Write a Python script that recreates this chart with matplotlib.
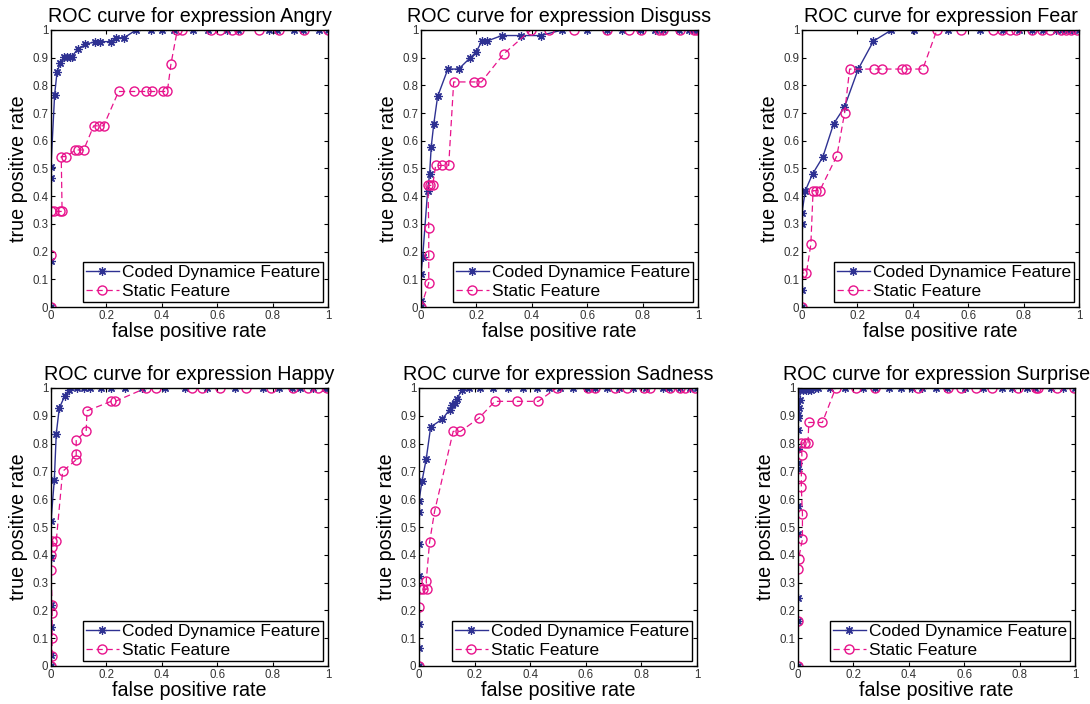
import numpy as np
import matplotlib.pyplot as plt

plt.rcParams['font.family'] = ['Liberation Sans', 'DejaVu Sans']

# Datos: (fpr, tpr) por expresión
titles = ['Angry', 'Disguss', 'Fear', 'Happy', 'Sadness', 'Surprise']

angry_dyn_x = [0, 0, 0, 0, 0.013, 0.022, 0.034, 0.048, 0.057, 0.067, 0.075, 0.096, 0.124, 0.16, 0.178,
               0.216, 0.235, 0.264, 0.307, 0.36, 0.40, 0.444, 0.514, 0.568, 0.634, 0.676, 0.788, 0.816,
               0.876, 0.91, 0.968, 1.0]
angry_dyn_y = [0, 0.165, 0.465, 0.507, 0.766, 0.85, 0.88, 0.904, 0.904, 0.904, 0.904, 0.93, 0.948, 0.958, 0.958,
               0.958, 0.972, 0.972, 1, 1, 1, 1, 1, 1, 1, 1, 1, 1,
               1, 1, 1, 1]
angry_sta_x = [0, 0, 0, 0.012, 0.031, 0.04, 0.037, 0.055, 0.088, 0.096, 0.118, 0.154, 0.172, 0.19, 0.244,
               0.298, 0.343, 0.364, 0.403, 0.42, 0.433, 0.456, 0.472, 0.577, 0.61, 0.654, 0.677, 0.751,
               0.824, 0.912, 1.0]
angry_sta_y = [0, 0.186, 0.345, 0.345, 0.345, 0.345, 0.543, 0.543, 0.567, 0.567, 0.567, 0.654, 0.654, 0.654, 0.778,
               0.778, 0.778, 0.778, 0.778, 0.778, 0.877, 1, 1, 1, 1, 1, 1, 1,
               1, 1, 1]

disg_dyn_x = [0, 0, 0, 0.006, 0.024, 0.031, 0.037, 0.046, 0.06, 0.097, 0.136, 0.178, 0.198, 0.22, 0.238,
              0.292, 0.36, 0.432, 0.51, 0.598, 0.672, 0.726, 0.79, 0.844, 0.874, 0.932, 0.968, 0.986, 1.0]
disg_dyn_y = [0, 0.02, 0.12, 0.18, 0.42, 0.48, 0.579, 0.66, 0.76, 0.859, 0.859, 0.9, 0.919, 0.96, 0.96,
              0.98, 0.98, 0.98, 1, 1, 1, 1, 1, 1, 1, 1, 1, 1, 1]
disg_sta_x = [0, 0.028, 0.028, 0.028, 0.025, 0.034, 0.042, 0.053, 0.076, 0.10, 0.118, 0.19, 0.218, 0.298,
              0.397, 0.462, 0.552, 0.672, 0.751, 0.793, 0.86, 0.874, 0.934, 0.986, 0.998]
disg_sta_y = [0, 0.087, 0.186, 0.287, 0.439, 0.439, 0.439, 0.511, 0.511, 0.511, 0.8125, 0.8125, 0.8125, 0.913,
              1, 1, 1, 1, 1, 1, 1, 1, 1, 1, 1]

fear_dyn_x = [0, 0, 0, 0, 0.012, 0.038, 0.075, 0.114, 0.153, 0.203, 0.258, 0.323, 0.403, 0.526, 0.643,
              0.727, 0.785, 0.832, 0.871, 0.916, 0.94, 0.959, 0.976, 1.0]
fear_dyn_y = [0, 0.06, 0.30, 0.341, 0.42, 0.48, 0.541, 0.661, 0.721, 0.859, 0.96, 1, 1, 1, 1,
              1, 1, 1, 1, 1, 1, 1, 1, 1]
fear_sta_x = [0, 0, 0.016, 0.032, 0.04, 0.052, 0.064, 0.126, 0.154, 0.172, 0.261, 0.288, 0.361, 0.375, 0.436,
              0.487, 0.573, 0.689, 0.721, 0.751, 0.773, 0.832, 0.865, 0.895, 0.935, 0.953, 0.971, 0.992]
fear_sta_y = [0, 0.123, 0.123, 0.227, 0.42, 0.42, 0.42, 0.546, 0.702, 0.859, 0.859, 0.859, 0.859, 0.859, 0.859,
              1, 1, 1, 1, 1, 1, 1, 1, 1, 1, 1, 1, 1]

happy_dyn_x = [0, 0, 0, 0, 0, 0, 0.012, 0.019, 0.03, 0.049, 0.066, 0.094, 0.118, 0.142, 0.18, 0.217, 0.268,
               0.328, 0.412, 0.484, 0.562, 0.664, 0.766, 0.824, 0.87, 0.898, 0.946, 0.988, 1.0]
happy_dyn_y = [0, 0.04, 0.142, 0.22, 0.388, 0.52, 0.67, 0.836, 0.928, 0.97, 0.992, 1, 1, 1, 1, 1, 1,
               1, 1, 1, 1, 1, 1, 1, 1, 1, 1, 1, 1]
happy_sta_x = [0, 0.004, 0.004, 0.004, 0.004, 0, 0, 0.004, 0.004, 0.019, 0.042, 0.091, 0.091, 0.091, 0.127,
               0.13, 0.217, 0.232, 0.343, 0.379, 0.508, 0.544, 0.61, 0.703, 0.794, 0.874, 0.928, 0.964, 0.998]
happy_sta_y = [0, 0.036, 0.10, 0.19, 0.22, 0.346, 0.40, 0.427, 0.448, 0.45, 0.70, 0.742, 0.762, 0.814, 0.844,
               0.918, 0.952, 0.952, 1, 1, 1, 1, 1, 1, 1, 1, 1, 1, 1]

sad_dyn_x = [0, 0, 0, 0, 0, 0, 0, 0.011, 0.026, 0.042, 0.084, 0.11, 0.12, 0.129, 0.135, 0.155, 0.18, 0.219,
             0.267, 0.321, 0.375, 0.423, 0.469, 0.507, 0.553, 0.603, 0.633, 0.678, 0.721, 0.769, 0.817, 0.877,
             0.898, 0.94, 0.976, 1.0]
sad_dyn_y = [0, 0.064, 0.15, 0.325, 0.438, 0.553, 0.594, 0.666, 0.745, 0.86, 0.888, 0.922, 0.938, 0.946, 0.96,
             0.992, 1, 1, 1, 1, 1, 1, 1, 1, 1, 1, 1, 1, 1, 1, 1, 1, 1, 1, 1, 1]
sad_sta_x = [0, 0, 0.002, 0.014, 0.029, 0.026, 0.038, 0.056, 0.123, 0.149, 0.216, 0.273, 0.351, 0.429, 0.495,
             0.607, 0.633, 0.706, 0.748, 0.81, 0.83, 0.904, 0.938, 0.958, 0.992]
sad_sta_y = [0, 0.211, 0.276, 0.276, 0.276, 0.306, 0.445, 0.556, 0.844, 0.844, 0.892, 0.952, 0.952, 0.952, 1,
             1, 1, 1, 1, 1, 1, 1, 1, 1, 1]

surp_dyn_x = [0, 0, 0, 0, 0, 0, 0, 0, 0, 0, 0, 0.002, 0.008, 0.006, 0.018, 0.028, 0.036, 0.046, 0.06, 0.072,
              0.114, 0.169, 0.233, 0.277, 0.329, 0.373, 0.41, 0.448, 0.498, 0.539, 0.602, 0.669, 0.735, 0.773,
              0.825, 0.855, 0.913, 0.958, 1.0]
surp_dyn_y = [0, 0.163, 0.244, 0.474, 0.576, 0.708, 0.73, 0.78, 0.848, 0.892, 0.904, 0.928, 0.958, 0.992, 0.992,
              0.992, 0.992, 0.992, 1, 1, 1, 1, 1, 1, 1, 1, 1, 1, 1, 1, 1, 1, 1, 1, 1, 1, 1, 1, 1]
surp_sta_x = [0, 0, 0, 0.002, 0.016, 0.016, 0.012, 0.012, 0.014, 0.012, 0.024, 0.036, 0.039, 0.088, 0.136,
              0.211, 0.277, 0.434, 0.542, 0.59, 0.642, 0.699, 0.795, 0.859, 0.867, 0.934, 0.998]
surp_sta_y = [0, 0.163, 0.35, 0.385, 0.456, 0.547, 0.643, 0.68, 0.76, 0.802, 0.802, 0.802, 0.876, 0.876, 1,
              1, 1, 1, 1, 1, 1, 1, 1, 1, 1, 1, 1]

dyn_x = [angry_dyn_x, disg_dyn_x, fear_dyn_x, happy_dyn_x, sad_dyn_x, surp_dyn_x]
dyn_y = [angry_dyn_y, disg_dyn_y, fear_dyn_y, happy_dyn_y, sad_dyn_y, surp_dyn_y]
sta_x = [angry_sta_x, disg_sta_x, fear_sta_x, happy_sta_x, sad_sta_x, surp_sta_x]
sta_y = [angry_sta_y, disg_sta_y, fear_sta_y, happy_sta_y, sad_sta_y, surp_sta_y]

W, H = 1090, 704
# caja de cada eje en pixeles: (izq, arriba, ancho, alto)
boxes = [(51, 30, 277, 277), (421, 30, 277, 277), (802, 30, 277, 277),
         (51, 388, 277, 278), (419, 388, 278, 278), (798, 388, 277, 278)]

blue = '#2e3192'
pink = '#e8138c'

fig = plt.figure(figsize=(W / 100, H / 100), dpi=100)
for i in range(6):
    l, t, w, h = boxes[i]
    ax = fig.add_axes([l / W, (H - t - h) / H, w / W, h / H])
    ax.plot(dyn_x[i], dyn_y[i], '-', color=blue, marker=(8, 2, 0), markersize=6, markeredgewidth=0.9,
            linewidth=1, label='Coded Dynamice Feature')
    ax.plot(sta_x[i], sta_y[i], '--', color=pink, marker='o', markersize=6.5, markerfacecolor='none',
            linewidth=0.9, dashes=(5, 3), label='Static Feature')
    ax.set_xlim(0, 1)
    ax.set_ylim(0, 1)
    ax.set_xticks([0, 0.2, 0.4, 0.6, 0.8, 1])
    ax.set_xticklabels(['0', '0.2', '0.4', '0.6', '0.8', '1'])
    ax.set_yticks(np.arange(0, 1.01, 0.1))
    ax.set_yticklabels(['0', '0.1', '0.2', '0.3', '0.4', '0.5', '0.6', '0.7', '0.8', '0.9', '1'])
    ax.tick_params(direction='in', top=True, right=True, length=3, labelsize=8.3, labelcolor='#333333', pad=2)
    for s in ax.spines.values():
        s.set_linewidth(1)
    ax.set_title('ROC curve for expression ' + titles[i], fontsize=14.2, pad=6)
    ax.set_xlabel('false positive rate', fontsize=14.2, labelpad=0)
    ax.set_ylabel('true positive rate', fontsize=14.2, labelpad=3)
    leg = ax.legend(loc='lower right', fontsize=12.5, fancybox=False, framealpha=1, edgecolor='black',
                    borderpad=0.15, labelspacing=0.25, handlelength=1.9, handletextpad=0.2,
                    borderaxespad=0.3)
    leg.get_frame().set_linewidth(1)

plt.savefig('out.png', dpi=100)
